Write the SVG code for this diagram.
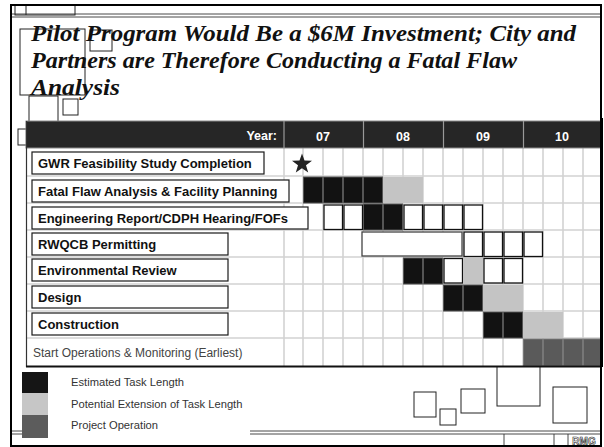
<svg xmlns="http://www.w3.org/2000/svg" width="604" height="447" viewBox="0 0 604 447">
<style>
.art{fill:none;stroke:#222;stroke-width:1}
.title{font-family:"Liberation Serif",serif;font-weight:bold;font-style:italic;font-size:23px;fill:#111}
.lbl{fill:#fff;stroke:#1a1a1a;stroke-width:1.2}
.lt{font-family:"Liberation Sans",Arial,sans-serif;font-weight:bold;font-size:13px;fill:#111}
.hd{font-family:"Liberation Sans",Arial,sans-serif;font-weight:bold;font-size:12.5px;fill:#fff}
.gl{stroke:#d2d2d2;stroke-width:1.6}
.blk{fill:#121212;stroke:#555;stroke-width:1}
.lg{fill:#c4c4c4}
.dg{fill:#5a5a5a;stroke:#777;stroke-width:1}
.wb{fill:#fff;stroke:#111;stroke-width:1.3}
.leg{font-family:"Liberation Sans",Arial,sans-serif;font-size:11.2px;fill:#333}
</style>
<defs>
<polygon id="star" points="0,-10.5 2.5,-3.4 10,-3.3 4,1.3 6.2,8.5 0,4.2 -6.2,8.5 -4,1.3 -10,-3.3 -2.5,-3.4" fill="#222"/>
</defs>
<rect x="0" y="0" width="604" height="447" fill="#fff"/>

<g id="top-strip">
<line x1="12" y1="14" x2="600" y2="14" stroke="#333" stroke-width="0.9"/>
<line x1="12" y1="17" x2="600" y2="17" stroke="#333" stroke-width="0.9"/>
<rect class="art" x="15" y="5" width="60" height="10"/>
<line x1="26" y1="5" x2="26" y2="15" stroke="#222" stroke-width="1"/>
</g>

<g id="artifacts-top">
<rect class="art" x="20" y="29" width="65" height="66"/>
<rect class="art" x="90" y="30" width="22" height="21"/>
<rect class="art" x="29" y="96" width="29" height="40"/>
<rect class="art" x="63" y="99" width="15" height="16"/>
<rect class="art" x="18" y="129" width="20" height="16"/>
<rect class="art" x="497" y="355" width="43" height="51"/>
</g>

<g id="title">
<text class="title" x="31" y="41" textLength="545" lengthAdjust="spacingAndGlyphs">Pilot Program Would Be a $6M Investment; City and</text>
<text class="title" x="31" y="68" textLength="486" lengthAdjust="spacingAndGlyphs">Partners are Therefore Conducting a Fatal Flaw</text>
<text class="title" x="31" y="95" textLength="89" lengthAdjust="spacingAndGlyphs">Analysis</text>
</g>

<g id="table">
<rect x="26" y="148" width="575" height="218" fill="#fff"/>
<g id="grid">
<line class="gl" x1="26" y1="176" x2="600" y2="176"/>
<line class="gl" x1="26" y1="203" x2="600" y2="203"/>
<line class="gl" x1="26" y1="230" x2="600" y2="230"/>
<line class="gl" x1="26" y1="257" x2="600" y2="257"/>
<line class="gl" x1="26" y1="284" x2="600" y2="284"/>
<line class="gl" x1="26" y1="311" x2="600" y2="311"/>
<line class="gl" x1="26" y1="338" x2="600" y2="338"/>
<line class="gl" x1="284" y1="148" x2="284" y2="366"/>
<line class="gl" x1="303" y1="148" x2="303" y2="366"/>
<line class="gl" x1="323" y1="148" x2="323" y2="366"/>
<line class="gl" x1="343" y1="148" x2="343" y2="366"/>
<line class="gl" x1="363" y1="148" x2="363" y2="366"/>
<line class="gl" x1="383" y1="148" x2="383" y2="366"/>
<line class="gl" x1="403" y1="148" x2="403" y2="366"/>
<line class="gl" x1="423" y1="148" x2="423" y2="366"/>
<line class="gl" x1="443" y1="148" x2="443" y2="366"/>
<line class="gl" x1="463" y1="148" x2="463" y2="366"/>
<line class="gl" x1="483" y1="148" x2="483" y2="366"/>
<line class="gl" x1="503" y1="148" x2="503" y2="366"/>
<line class="gl" x1="523" y1="148" x2="523" y2="366"/>
<line class="gl" x1="543" y1="148" x2="543" y2="366"/>
<line class="gl" x1="563" y1="148" x2="563" y2="366"/>
<line class="gl" x1="583" y1="148" x2="583" y2="366"/>
</g>

<g id="header">
<rect x="26" y="121" width="575" height="27" fill="#262626" stroke="#8a8a8a" stroke-width="1"/>
<line x1="284" y1="121" x2="284" y2="148" stroke="#999" stroke-width="1.2"/>
<line x1="363.5" y1="121" x2="363.5" y2="148" stroke="#999" stroke-width="1.2"/>
<line x1="443.5" y1="121" x2="443.5" y2="148" stroke="#999" stroke-width="1.2"/>
<line x1="523.5" y1="121" x2="523.5" y2="148" stroke="#999" stroke-width="1.2"/>
<text class="hd" x="277" y="140" text-anchor="end">Year:</text>
<text class="hd" x="323" y="141" text-anchor="middle">07</text>
<text class="hd" x="403" y="141" text-anchor="middle">08</text>
<text class="hd" x="483" y="141" text-anchor="middle">09</text>
<text class="hd" x="562" y="141" text-anchor="middle">10</text>
</g>

<g id="row-gwr">
<rect class="lbl" x="32" y="152" width="232" height="22"/>
<text class="lt" x="38" y="168">GWR Feasibility Study Completion</text>
<use href="#star" x="302" y="164"/>
</g>

<g id="row-fatal-flaw">
<rect class="lbl" x="32" y="180" width="257" height="22"/>
<text class="lt" x="38" y="196">Fatal Flaw Analysis &amp; Facility Planning</text>
<rect class="blk" x="303.5" y="177" width="19" height="26"/>
<rect class="blk" x="323.5" y="177" width="19" height="26"/>
<rect class="blk" x="343.5" y="177" width="19" height="26"/>
<rect class="blk" x="363.5" y="177" width="19" height="26"/>
<rect class="lg" x="383" y="177" width="40" height="26"/>
</g>

<g id="row-engineering">
<rect class="lbl" x="32" y="207" width="276" height="22"/>
<text class="lt" x="38" y="223">Engineering Report/CDPH Hearing/FOFs</text>
<rect class="wb" x="324" y="205" width="18.5" height="24.5"/>
<rect class="wb" x="344" y="205" width="18.5" height="24.5"/>
<rect class="blk" x="363.5" y="204" width="19" height="26"/>
<rect class="blk" x="383.5" y="204" width="19" height="26"/>
<rect class="wb" x="404" y="205" width="18.5" height="24.5"/>
<rect class="wb" x="424" y="205" width="18.5" height="24.5"/>
<rect class="wb" x="444" y="205" width="18.5" height="24.5"/>
<rect class="wb" x="464" y="205" width="18.5" height="24.5"/>
</g>

<g id="row-rwqcb">
<rect class="lbl" x="32" y="233" width="196" height="22"/>
<text class="lt" x="38" y="249">RWQCB Permitting</text>
<rect x="362" y="232" width="100" height="24" fill="#fff" stroke="#444" stroke-width="1.3"/>
<rect class="wb" x="464" y="232" width="18.5" height="24.5" stroke="#666"/>
<rect class="wb" x="484" y="232" width="18.5" height="24.5"/>
<rect class="wb" x="504" y="232" width="18.5" height="24.5"/>
<rect class="wb" x="524" y="232" width="18.5" height="24.5"/>
</g>

<g id="row-environmental">
<rect class="lbl" x="32" y="259" width="196" height="22"/>
<text class="lt" x="38" y="275">Environmental Review</text>
<rect class="blk" x="403.5" y="258" width="19" height="26"/>
<rect class="blk" x="423.5" y="258" width="19" height="26"/>
<rect class="wb" x="444" y="258.5" width="18.5" height="24.5"/>
<rect class="lg" x="463" y="258" width="20" height="26"/>
<rect class="wb" x="484" y="258.5" width="18.5" height="24.5"/>
<rect class="wb" x="504" y="258.5" width="18.5" height="24.5"/>
</g>

<g id="row-design">
<rect class="lbl" x="32" y="286" width="196" height="22"/>
<text class="lt" x="38" y="302">Design</text>
<rect class="blk" x="443.5" y="285" width="19" height="26"/>
<rect class="blk" x="463.5" y="285" width="19" height="26"/>
<rect class="lg" x="483" y="285" width="40" height="26"/>
</g>

<g id="row-construction">
<rect class="lbl" x="32" y="313" width="196" height="22"/>
<text class="lt" x="38" y="329">Construction</text>
<rect class="blk" x="483.5" y="312" width="19" height="26"/>
<rect class="blk" x="503.5" y="312" width="19" height="26"/>
<rect class="lg" x="523" y="312" width="40" height="26"/>
</g>

<g id="row-start-ops">
<text x="33" y="357" font-family="'Liberation Sans',Arial,sans-serif" font-size="12" fill="#444">Start Operations &amp; Monitoring (Earliest)</text>
<rect class="dg" x="523.5" y="339" width="19" height="27"/>
<rect class="dg" x="543.5" y="339" width="19" height="27"/>
<rect class="dg" x="563.5" y="339" width="19" height="27"/>
<rect class="dg" x="583.5" y="339" width="17" height="27"/>
</g>

<line x1="26.5" y1="121" x2="26.5" y2="367" stroke="#333" stroke-width="1.2"/>
<line x1="26" y1="366.5" x2="601" y2="366.5" stroke="#111" stroke-width="2"/>
<line x1="601.5" y1="118" x2="601.5" y2="367" stroke="#000" stroke-width="3"/>
</g>

<g id="bottom-strip">
<line x1="12" y1="431" x2="600" y2="431" stroke="#333" stroke-width="0.9"/>
<line x1="12" y1="434" x2="600" y2="434" stroke="#333" stroke-width="0.9"/>
<line x1="504" y1="434" x2="504" y2="446" stroke="#333" stroke-width="0.9"/>
<line x1="554" y1="434" x2="554" y2="446" stroke="#333" stroke-width="0.9"/>
<line x1="568" y1="434" x2="568" y2="446" stroke="#333" stroke-width="0.9"/>
<text x="584" y="444.5" text-anchor="middle" font-family="'Liberation Sans',Arial,sans-serif" font-weight="bold" font-size="10" fill="#fff" stroke="#222" stroke-width="0.6">RMG</text>
</g>

<g id="artifacts-bottom">
<rect class="art" x="414" y="392" width="22" height="25"/>
<rect class="art" x="440" y="409" width="16" height="16"/>
<rect class="art" x="461" y="389" width="24" height="24"/>
<rect class="art" x="553" y="387" width="34" height="36"/>
</g>

<g id="legend">
<rect x="22" y="368" width="228" height="70" fill="#fff"/>
<rect x="22" y="372" width="26" height="21" fill="#151515"/>
<rect x="22" y="393" width="26" height="22" fill="#c6c6c6"/>
<rect x="22" y="415" width="26" height="23" fill="#5c5c5c"/>
<text class="leg" x="71" y="386">Estimated Task Length</text>
<text class="leg" x="71" y="408">Potential Extension of Task Length</text>
<text class="leg" x="71" y="429">Project Operation</text>
</g>

<rect id="frame" x="11" y="5" width="590" height="441" fill="none" stroke="#000" stroke-width="2"/>
</svg>
